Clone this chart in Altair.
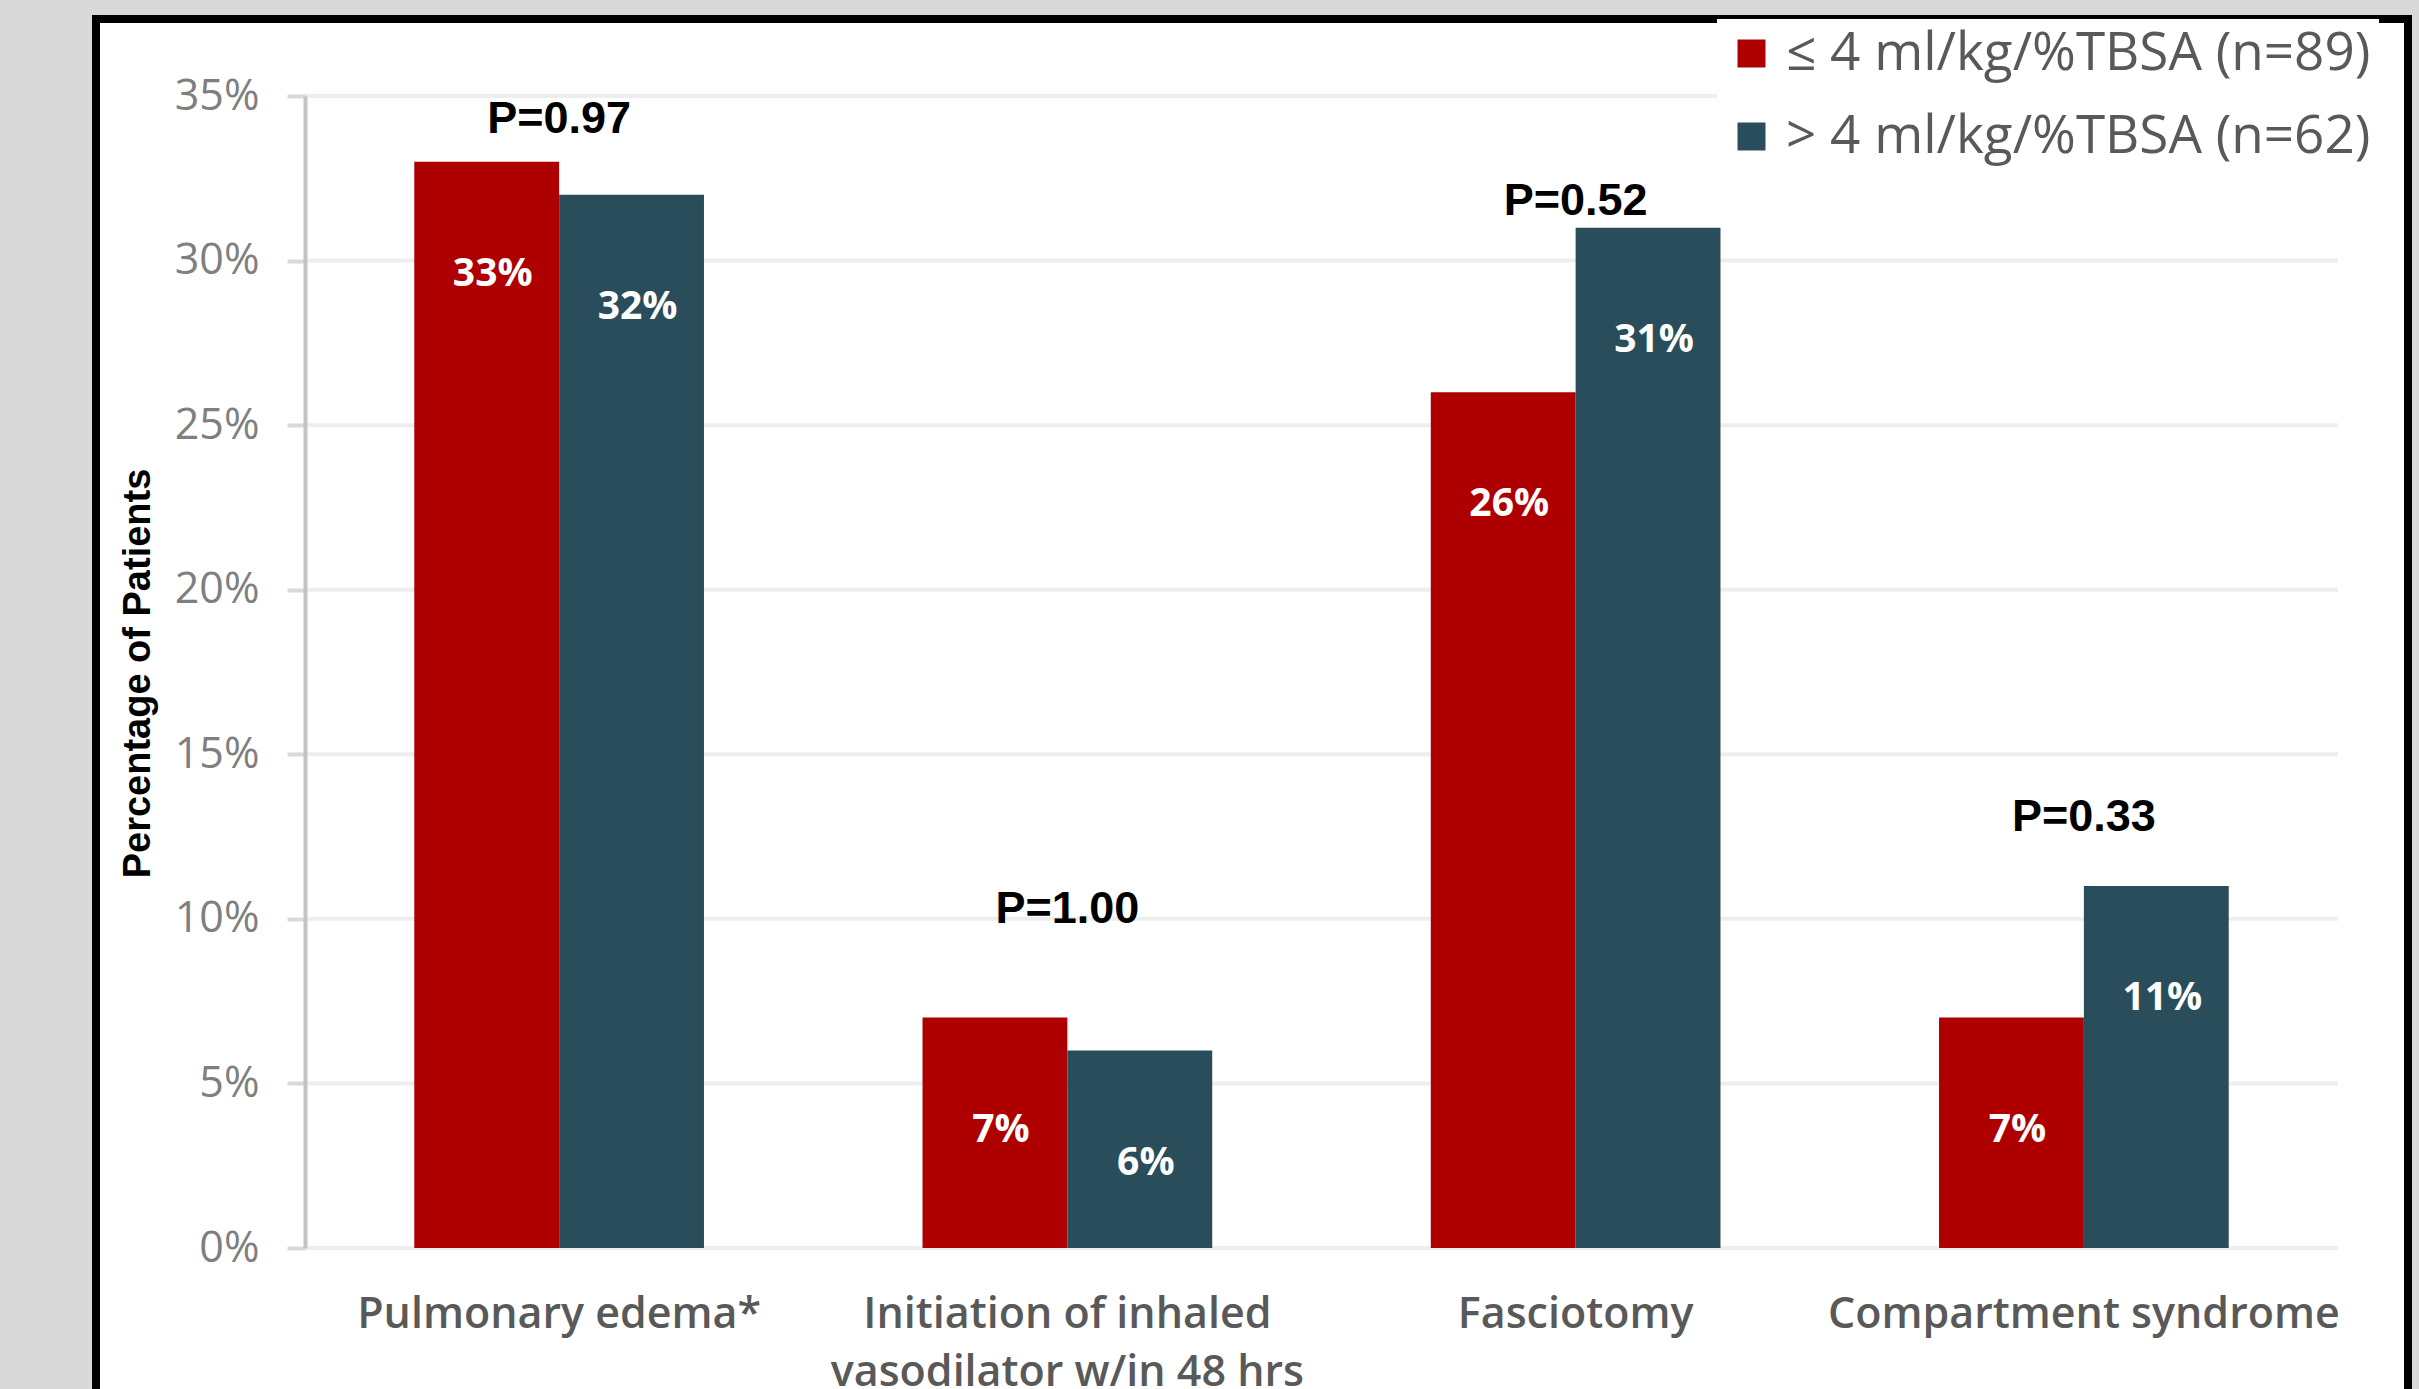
import altair as alt
import pandas as pd

# ---- data ----
categories = [
    "Pulmonary edema*",
    "Initiation of inhaled vasodilator w/in 48 hrs",
    "Fasciotomy",
    "Compartment syndrome",
]
groups = ["≤ 4 ml/kg/%TBSA (n=89)", "> 4 ml/kg/%TBSA (n=62)"]
low_values = [33, 7, 26, 7]
high_values = [32, 6, 31, 11]
p_texts = ["P=0.97", "P=1.00", "P=0.52", "P=0.33"]
p_label_heights = [34.3, 10.3, 31.8, 13.1]
y_ticks = [0, 5, 10, 15, 20, 25, 30, 35]
colors = ["#AE0000", "#2A4D5C"]

# ---- tables ----
rows = []
for c, lo, hi in zip(categories, low_values, high_values):
    rows.append({"category": c, "group": groups[0], "value": lo})
    rows.append({"category": c, "group": groups[1], "value": hi})
bars_df = pd.DataFrame(rows)
p_df = pd.DataFrame({"category": categories, "p": p_texts, "py": p_label_heights})
grid_df = pd.DataFrame({"tick": y_ticks})
frame_df = pd.DataFrame({"k": [0]})

W, H = 2033, 1152
FONT = "Open Sans"
Y_TITLE = "Percentage of Patients"

x_axis = alt.Axis(
    domain=False,
    ticks=False,
    tickSize=0,
    grid=False,
    labelAngle=0,
    labelFont=FONT,
    labelFontSize=43,
    labelFontWeight=600,
    labelColor="#595959",
    labelPadding=45,
    labelLineHeight=58,
    labelLimit=1200,
    labelExpr="datum.label == 'Initiation of inhaled vasodilator w/in 48 hrs' ? ['Initiation of inhaled', 'vasodilator w/in 48 hrs'] : datum.label",
    zindex=1,
)
x_enc = alt.X(
    "category:N",
    sort=categories,
    scale=alt.Scale(paddingInner=0.43, paddingOuter=0.215),
    title=None,
    axis=x_axis,
)
x_plain = alt.X("category:N", sort=categories, title=None, axis=x_axis)

y_axis = alt.Axis(
    values=y_ticks,
    grid=False,
    domainColor="#c4c4c4",
    domainWidth=4,
    tickColor="#d9d9d9",
    tickWidth=4,
    tickSize=18,
    labelFont=FONT,
    labelFontSize=43,
    labelColor="#7f7f7f",
    labelPadding=28,
    labelExpr="datum.value + '%'",
    titleFont="Liberation Sans",
    titleFontSize=38,
    titleFontWeight="bold",
    titleColor="black",
    titleAngle=270,
    titleX=-167,
    titleY=577,
    titleAlign="center",
    titleBaseline="middle",
    zindex=1,
)
y_scale = alt.Scale(domain=[0, 35], nice=False, zero=True)

frame = alt.Chart(frame_df).mark_rect(fill="white", stroke="black", strokeWidth=8).encode(
    x=alt.value(-209), x2=alt.value(2103), y=alt.value(-77), y2=alt.value(1340)
)

grid = alt.Chart(grid_df).mark_rule(color="#eeeeee", strokeWidth=4).encode(
    x=alt.value(0),
    x2=alt.value(W),
    y=alt.Y("tick:Q", scale=y_scale, axis=y_axis, title=Y_TITLE),
)

bars = alt.Chart(bars_df).mark_bar().encode(
    x=x_enc,
    xOffset=alt.XOffset("group:N", sort=groups, scale=alt.Scale(paddingInner=0, paddingOuter=0)),
    y=alt.Y("value:Q", scale=y_scale, title=Y_TITLE, axis=y_axis),
    color=alt.Color(
        "group:N",
        sort=groups,
        scale=alt.Scale(domain=groups, range=colors),
        legend=alt.Legend(
            title=None,
            orient="none",
            legendX=1412,
            legendY=-77,
            padding=8,
            fillColor="white",
            symbolType="square",
            symbolSize=784,
            symbolStrokeWidth=0,
            symbolOpacity=1,
            labelFont=FONT,
            labelFontSize=53,
            labelColor="#595959",
            labelOffset=8,
            labelLimit=1000,
            rowPadding=29,
            zindex=1,
        ),
    ),
)

value_labels = alt.Chart(bars_df).transform_calculate(
    label="datum.value + '%'"
).mark_text(
    color="white", font=FONT, fontSize=39, fontWeight="bold", baseline="middle", align="center", dy=112, dx=6
).encode(
    x=x_plain,
    xOffset=alt.XOffset("group:N", sort=groups),
    y=alt.Y("value:Q", scale=y_scale, title=Y_TITLE, axis=y_axis),
    text="label:N",
)

p_labels = alt.Chart(p_df).mark_text(
    color="black", font="Liberation Sans", fontSize=45, fontWeight="bold", baseline="middle", align="center"
).encode(
    x=x_plain,
    y=alt.Y("py:Q", scale=y_scale, title=Y_TITLE, axis=y_axis),
    text="p:N",
)

chart = (
    alt.layer(frame, grid, bars, value_labels, p_labels)
    .properties(
        width=W,
        height=H,
        background="#d9d9d9",
        padding={"left": 305, "top": 96, "right": 81, "bottom": 141},
        autosize=alt.AutoSizeParams(type="none"),
    )
    .configure_view(stroke=None)
)

chart.save("out.html", embed_options={"renderer": "svg", "actions": False})
